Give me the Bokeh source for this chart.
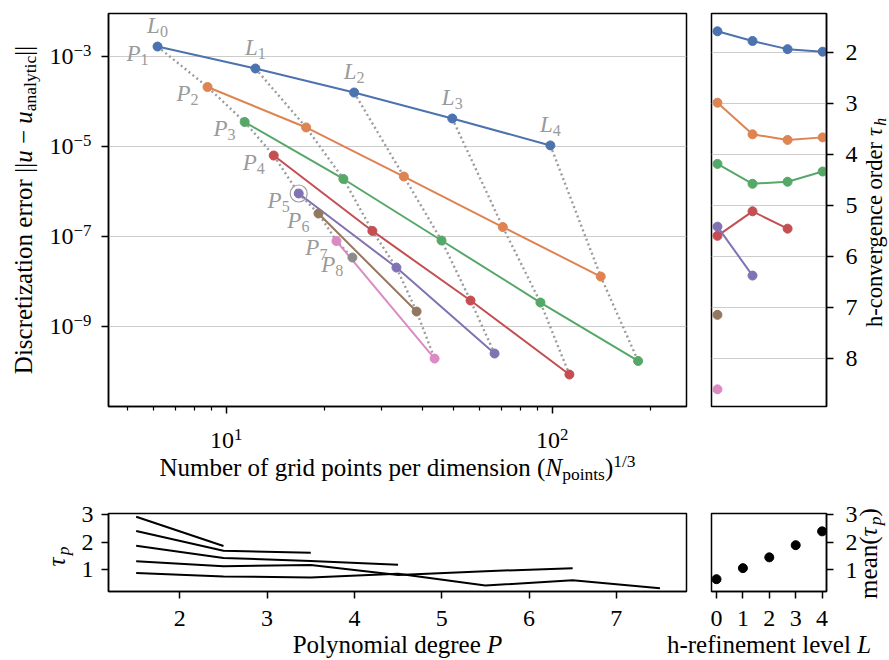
import math
from bokeh.plotting import figure
from bokeh.models import Range1d, FixedTicker, Label, CustomJSTickFormatter
from bokeh.layouts import column, row
from bokeh.embed import file_html
from bokeh.resources import INLINE

# ---------------- data ----------------
poly_degrees = [1, 2, 3, 4, 5, 6, 7, 8]
refine_levels = [0, 1, 2, 3, 4]

npts_p1 = [6.16, 12.3, 24.7, 49.4, 98.8]
err_p1 = [1.64e-3, 5.33e-4, 1.56e-4, 4.13e-5, 1.04e-5]
npts_p2 = [8.77, 17.6, 35.1, 70.6, 141.0]
err_p2 = [2.07e-4, 2.61e-5, 2.12e-6, 1.60e-7, 1.27e-8]
npts_p3 = [11.4, 22.9, 45.8, 92.1, 183.6]
err_p3 = [3.45e-5, 1.87e-6, 8.02e-8, 3.36e-9, 1.69e-10]
npts_p4 = [14.0, 28.1, 56.2, 113.0]
err_p4 = [6.21e-6, 1.31e-7, 3.72e-9, 8.45e-11]
npts_p5 = [16.7, 33.3, 66.6]
err_p5 = [8.89e-7, 2.01e-8, 2.47e-10]
npts_p6 = [19.2, 38.4]
err_p6 = [3.19e-7, 2.12e-9]
npts_p7 = [21.8, 43.6]
err_p7 = [7.82e-8, 1.91e-10]
npts_p8 = [24.4]
err_p8 = [3.36e-8]

h_intervals = [0, 1, 2, 3]
tau_h_p1 = [1.59, 1.78, 1.94, 1.99]
tau_h_p2 = [2.99, 3.61, 3.72, 3.67]
tau_h_p3 = [4.19, 4.58, 4.54, 4.34]
tau_h_p4 = [5.60, 5.12, 5.46]
tau_h_p5 = [5.42, 6.38]
tau_h_p6 = [7.15]
tau_h_p7 = [8.61]

p_mid = [1.5, 2.5, 3.5, 4.5, 5.5, 6.5, 7.5]
tau_p_L0 = [0.88, 0.76, 0.72, 0.86, 0.43, 0.62, 0.33]
tau_p_L1 = [1.31, 1.13, 1.17, 0.81, 0.95, 1.06]
tau_p_L2 = [1.87, 1.43, 1.32, 1.18]
tau_p_L3 = [2.40, 1.69, 1.62]
tau_p_L4 = [2.92, 1.86]
mean_tau_p = [0.66, 1.06, 1.45, 1.89, 2.39]

err_tick_exp = [-3, -5, -7, -9]
npts_tick_exp = [1, 2]
npts_minor_ticks = [5, 6, 7, 8, 9, 20, 30, 40, 50, 60, 70, 80, 90, 200]
tau_h_ticks = [2, 3, 4, 5, 6, 7, 8]
tau_p_ticks = [1, 2, 3]
p_ticks = [2, 3, 4, 5, 6, 7]

series_npts = [npts_p1, npts_p2, npts_p3, npts_p4, npts_p5, npts_p6, npts_p7, npts_p8]
series_err = [err_p1, err_p2, err_p3, err_p4, err_p5, err_p6, err_p7, err_p8]
series_tau_h = [tau_h_p1, tau_h_p2, tau_h_p3, tau_h_p4, tau_h_p5, tau_h_p6, tau_h_p7]
tau_p_levels = [tau_p_L0, tau_p_L1, tau_p_L2, tau_p_L3, tau_p_L4]

# ---------------- style ----------------
DEEP = ["#4C72B0", "#DD8452", "#55A868", "#C44E52", "#8172B3", "#937860", "#DA8BC3", "#8C8C8C"]
FONT = "Liberation Serif"
GRAY_LBL = "#9a9a9a"
GRID = "#cccccc"
TICK_PX = 24
TITLE_FS = 25
BASE_FIX = 0.32   # correction so that the given y is the alphabetic baseline

RM = {' ': .25, '(': .333, ')': .333, '-': .333, '/': .278, '|': .2, '\u2212': .564,
      'D': .722, 'L': .611, 'N': .722, 'P': .556,
      'a': .444, 'b': .5, 'c': .444, 'd': .5, 'e': .444, 'f': .333, 'g': .5, 'h': .5,
      'i': .278, 'l': .278, 'm': .778, 'n': .5, 'o': .5, 'p': .5, 'r': .333, 's': .389,
      't': .278, 'u': .5, 'v': .5, 'y': .5, 'z': .444}
IT = {'u': .5, 'L': .556, 'P': .611, 'N': .667, 'h': .5, 'p': .5, '\u03c4': .45}


def tw(s, it=False):
    tab = IT if it else RM
    return sum(tab.get(c, RM.get(c, 0.5)) for c in s)


def rich(fig, pieces, x, y, size, angle=0.0, align="center", xu="data", yu="data",
         dx=0.0, dy=0.0, color="black"):
    items = []
    for text, st in pieces:
        small = st in ("sub", "sup", "itsub")
        fs = size * 0.7 if small else size
        it = st in ("it", "itsub")
        w = tw(text, it) * fs
        lead = tw(text[:len(text) - len(text.lstrip())], it) * fs
        shift = -0.18 * size if st in ("sub", "itsub") else (0.36 * size if st == "sup" else 0.0)
        shift += BASE_FIX * fs
        items.append((text.strip(), fs, it, w, lead, shift))
    total = sum(i[3] for i in items)
    pos = {"center": -total / 2.0, "left": 0.0, "right": -total}[align]
    for text, fs, it, w, lead, shift in items:
        if angle == 0:
            xo, yo = dx + pos + lead, dy + shift
        else:
            xo, yo = dx - shift, dy + pos + lead
        fig.add_layout(Label(x=x, y=y, x_units=xu, y_units=yu, x_offset=xo, y_offset=yo,
                             text=text, angle=angle, text_align="left",
                             text_baseline="alphabetic", text_font=FONT,
                             text_font_size=f"{fs:.1f}px",
                             text_font_style="italic" if it else "normal",
                             text_color=color))
        pos += w


def base_fig(w, h, borders, **kw):
    p = figure(width=w, height=h, title=None, output_backend="svg", toolbar_location=None, **kw)
    p.min_border_left, p.min_border_right, p.min_border_top, p.min_border_bottom = borders
    p.outline_line_color = "black"
    p.outline_line_width = 1.5
    p.outline_line_alpha = 1.0
    p.background_fill_color = "white"
    p.border_fill_color = "white"
    p.xgrid.grid_line_color = None
    p.ygrid.grid_line_color = None
    return p


def no_frame_align(s):
    try:
        s.frame_align = False
        return True
    except (AttributeError, ValueError):
        return False


def strip(w, h, x_range, y_range, borders=(0, 0, 0, 0), **kw):
    s = figure(width=w, height=h, title=None, x_range=x_range, y_range=y_range,
               output_backend="svg", toolbar_location=None, x_axis_location=None,
               y_axis_location=None, **kw)
    s.min_border_left, s.min_border_right, s.min_border_top, s.min_border_bottom = borders
    s.outline_line_color = None
    s.background_fill_color = "white"
    s.border_fill_color = "white"
    s.xgrid.grid_line_color = None
    s.ygrid.grid_line_color = None
    return s


def style_axis(ax, standoff, hide_labels=False):
    ax.major_tick_out = 7
    ax.major_tick_in = 0
    ax.minor_tick_out = 4
    ax.minor_tick_in = 0
    ax.major_tick_line_width = 1.5
    ax.minor_tick_line_width = 1.2
    ax.axis_line_width = 1.5
    ax.major_label_text_font = FONT
    ax.major_label_text_font_size = "0px" if hide_labels else f"{TICK_PX}px"
    ax.major_label_text_color = "black"
    ax.major_label_standoff = standoff
    ax.axis_label = None
    if hide_labels:
        ax.formatter = CustomJSTickFormatter(code="return ''")


# ================= top block =================
X1 = (4.357, 258.4)
Y1 = (10 ** -10.784, 10 ** -2.051)
p1 = base_fig(602, 415, (10, 14, 13, 9), x_axis_type="log", y_axis_type="log",
              x_range=Range1d(*X1), y_range=Range1d(*Y1))
style_axis(p1.xaxis[0], 0, hide_labels=True)
style_axis(p1.yaxis[0], 0, hide_labels=True)
p1.xaxis[0].ticker = FixedTicker(ticks=[10.0 ** e for e in npts_tick_exp], minor_ticks=npts_minor_ticks)
p1.yaxis[0].ticker = FixedTicker(ticks=[10.0 ** e for e in err_tick_exp], minor_ticks=[])
p1.ygrid.grid_line_color = GRID
p1.ygrid.grid_line_width = 1.2

n_levels = max(len(s) for s in series_npts)
for k in range(n_levels):
    xs = [s[k] for s in series_npts if len(s) > k]
    ys = [e[k] for e in series_err if len(e) > k]
    p1.line(xs, ys, line_color="#9c9c9c", line_width=2.4, line_dash="2 3")

for j in range(len(series_npts)):
    p1.line(series_npts[j], series_err[j], line_color=DEEP[j], line_width=2)
    p1.scatter(series_npts[j], series_err[j], size=9, fill_color=DEEP[j], line_color=DEEP[j])

p1.scatter([npts_p5[0]], [err_p5[0]], size=17, fill_color=None, line_color="#a0a0a0", line_width=1.2)

for k in range(len(npts_p1)):
    rich(p1, [("L", "it"), (str(refine_levels[k]), "sub")], npts_p1[k], err_p1[k], 23,
         dy=14, color=GRAY_LBL)
for j in range(len(series_npts)):
    rich(p1, [("P", "it"), (str(poly_degrees[j]), "sub")], series_npts[j][0], series_err[j][0], 23,
         align="right", dx=-9, dy=-14, color=GRAY_LBL)

# left strip of the main plot: y tick labels and y title (shares the y range)
a1 = strip(98, 500, Range1d(0, 98), p1.y_range, borders=(0, 0, 13, 94), y_axis_type="log")
for e in err_tick_exp:
    rich(a1, [("10", "rm"), ("\u2212%d" % (-e), "sup")], 91, 10.0 ** e, TICK_PX,
         align="right", dy=-8)
rich(a1, [("Discretization error ||", "rm"), ("u", "it"), (" \u2212 ", "rm"), ("u", "it"),
          ("analytic", "sub"), ("||", "rm")], 31, 196.5, TITLE_FS, angle=math.pi / 2,
     yu="screen")

# strip below the main plot: x tick labels and x title (shares the x range)
b1 = strip(602, 85, p1.x_range, Range1d(0, 85), borders=(10, 14, 0, 0), x_axis_type="log")
for e in npts_tick_exp:
    rich(b1, [("10", "rm"), (str(e), "sup")], 10.0 ** e, 52, TICK_PX)
rich(b1, [("Number of grid points per dimension (", "rm"), ("N", "it"), ("points", "sub"),
          (")", "rm"), ("1/3", "sup")], 289, 25, TITLE_FS, xu="screen")

# h-convergence order
X2 = (-0.17, 3.11)
Y2 = (8.947, 1.241)
p2 = base_fig(135, 500, (11, 9, 13, 94), x_range=Range1d(*X2),
              y_range=Range1d(*Y2), y_axis_location="right", x_axis_location=None)
style_axis(p2.yaxis[0], 0, hide_labels=True)
p2.yaxis[0].ticker = FixedTicker(ticks=tau_h_ticks, minor_ticks=[])
p2.ygrid.grid_line_color = GRID
p2.ygrid.grid_line_width = 1.2
for j, t in enumerate(series_tau_h):
    xs = h_intervals[:len(t)]
    p2.line(xs, t, line_color=DEEP[j], line_width=2)
    p2.scatter(xs, t, size=9, fill_color=DEEP[j], line_color=DEEP[j])

# right strip: tick labels and title of the h-convergence panel (shares its y range)
c2 = strip(54, 500, Range1d(0, 54), p2.y_range, borders=(0, 0, 13, 94))
for t in tau_h_ticks:
    rich(c2, [(str(t), "rm")], 10, t, TICK_PX, align="left", dy=-8)
rich(c2, [("h-convergence order ", "rm"), ("\u03c4", "it"), ("h", "itsub")], 46, 184,
     22.5, angle=math.pi / 2, yu="screen")

# ================= bottom block =================
X3 = (1.183, 7.804)
Y3 = (0.215, 3.036)
PX3 = 578.0 / (X3[1] - X3[0])
PY3 = 78.0 / (Y3[1] - Y3[0])
p3 = base_fig(625, 100, (33, 14, 13, 9), x_range=Range1d(*X3), y_range=Range1d(*Y3))
style_axis(p3.xaxis[0], 0, hide_labels=True)
style_axis(p3.yaxis[0], 8)
p3.xaxis[0].ticker = FixedTicker(ticks=p_ticks, minor_ticks=[])
p3.yaxis[0].ticker = FixedTicker(ticks=tau_p_ticks, minor_ticks=[])
for vals in tau_p_levels:
    p3.line(p_mid[:len(vals)], vals, line_color="black", line_width=2)

X4 = (-0.19, 4.167)
PX4 = 115.0 / (X4[1] - X4[0])
p4 = base_fig(135, 100, (11, 9, 13, 9), x_range=Range1d(*X4),
              y_range=Range1d(*Y3), y_axis_location="right")
style_axis(p4.xaxis[0], 0, hide_labels=True)
style_axis(p4.yaxis[0], 0, hide_labels=True)
p4.xaxis[0].ticker = FixedTicker(ticks=refine_levels, minor_ticks=[])
p4.yaxis[0].ticker = FixedTicker(ticks=tau_p_ticks, minor_ticks=[])
p4.scatter(refine_levels, mean_tau_p, size=9, fill_color="black", line_color="black")

# side strips of the bottom row; they opt out of frame alignment so the whole strip is usable
d1 = strip(75, 100, Range1d(0, 75), Range1d(0, 100))
g4 = strip(54, 100, Range1d(0, 54), Range1d(Y3[0] - 9 / PY3, Y3[1] + 13 / PY3))
fa_ok = no_frame_align(d1) and no_frame_align(g4)
if fa_ok:
    rich(d1, [("\u03c4", "it"), ("p", "itsub")], 64, 44, TITLE_FS, angle=math.pi / 2,
         xu="screen", yu="screen")
    for t in tau_p_ticks:
        rich(g4, [(str(t), "rm")], 10, t, TICK_PX, align="left", dy=-8)
    rich(g4, [("mean(", "rm"), ("\u03c4", "it"), ("p", "itsub"), (")", "rm")], 41, 47,
         TITLE_FS, angle=math.pi / 2, xu="screen", yu="screen")
else:
    d1 = strip(75, 100, Range1d(0, 75), Range1d(0, 78), borders=(0, 0, 13, 9))
    g4 = strip(54, 100, Range1d(0, 54), p4.y_range, borders=(0, 0, 13, 9))
    rich(d1, [("\u03c4", "it"), ("p", "itsub")], 64, 35, TITLE_FS, angle=math.pi / 2,
         xu="screen", yu="screen")
    for t in tau_p_ticks:
        rich(g4, [(str(t), "rm")], 10, t, TICK_PX, align="left", dy=-8)
    rich(g4, [("mean(", "rm"), ("\u03c4", "it"), ("p", "itsub"), (")", "rm")], 41, 39,
         21, angle=math.pi / 2, xu="screen", yu="screen")

# strips below the bottom panels: tick labels and titles (same data scale as the panels)
h3 = strip(661, 60, Range1d(X3[0] - 108 / PX3, X3[0] + (661 - 108) / PX3), Range1d(0, 60))
for t in p_ticks:
    rich(h3, [(str(t), "rm")], t, 34, TICK_PX)
rich(h3, [("Polynomial degree ", "rm"), ("P", "it")], 397, 8, TITLE_FS, xu="screen")

h4 = strip(228, 60, Range1d(X4[0] - 50 / PX4, X4[0] + 178 / PX4), Range1d(0, 60))
for t in refine_levels:
    rich(h4, [(str(t), "rm")], t, 34, TICK_PX)
rich(h4, [("h-refinement level ", "rm"), ("L", "it")], 107.5, 8, TITLE_FS, xu="screen")

layout = column(
    row(a1, column(p1, b1), p2, c2),
    row(d1, p3, p4, g4),
    row(h3, h4),
)
open("out.html", "w").write(file_html(layout, INLINE))
